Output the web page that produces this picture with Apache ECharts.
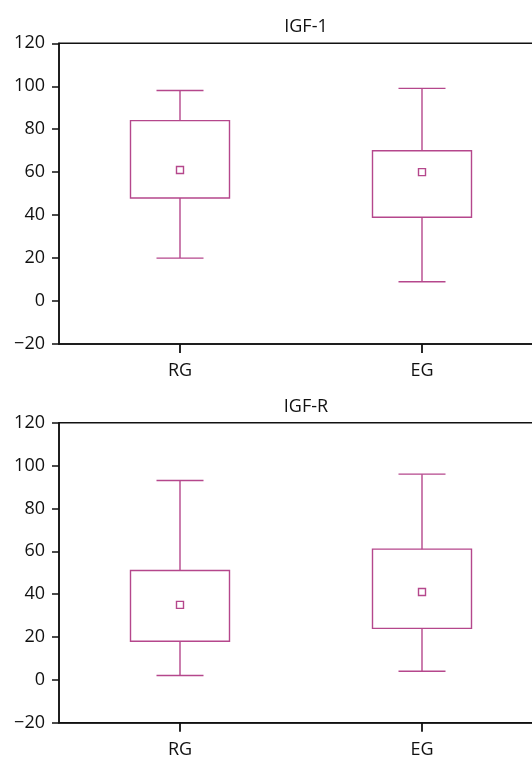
<!DOCTYPE html>
<html>
<head>
<meta charset="utf-8">
<script src="https://cdn.jsdelivr.net/npm/echarts@6/dist/echarts.min.js"></script>
<style>html,body{margin:0;padding:0;background:#fff}#c{width:532px;height:758px}</style>
</head>
<body>
<div id="c"></div>
<script>
var categories = ['RG', 'EG'];
var panelTitles = ['IGF-1', 'IGF-R'];
var yTicks = [-20, 0, 20, 40, 60, 80, 100, 120];

// IGF-1
var igf1Min  = [20, 9];
var igf1Q1   = [48, 39];
var igf1Q3   = [84, 70];
var igf1Max  = [98, 99];
var igf1Mean = [61, 60];

// IGF-R
var igfrMin  = [2, 4];
var igfrQ1   = [18, 24];
var igfrQ3   = [51, 61];
var igfrMax  = [93, 96];
var igfrMean = [35, 41];

var COLOR = '#b5478c';
var FONT = 'Open Sans';
var TXT = '#111';

function rows(mn, q1, q3, mx, mean) {
  return categories.map(function (c, i) { return [i, mn[i], q1[i], q3[i], mx[i], mean[i]]; });
}

function renderItem(params, api) {
  var x = api.value(0);
  var pMin = api.coord([x, api.value(1)]);
  var pQ1 = api.coord([x, api.value(2)]);
  var pQ3 = api.coord([x, api.value(3)]);
  var pMax = api.coord([x, api.value(4)]);
  var pMean = api.coord([x, api.value(5)]);
  var cx = pMin[0];
  var boxW = 99, capW = 47, m = 7;
  var st = { stroke: COLOR, fill: 'none', lineWidth: 1.4 };
  return {
    type: 'group',
    children: [
      { type: 'line', shape: { x1: cx, y1: pMax[1], x2: cx, y2: pQ3[1] }, style: st },
      { type: 'line', shape: { x1: cx, y1: pQ1[1], x2: cx, y2: pMin[1] }, style: st },
      { type: 'line', shape: { x1: cx - capW / 2, y1: pMax[1], x2: cx + capW / 2, y2: pMax[1] }, style: st },
      { type: 'line', shape: { x1: cx - capW / 2, y1: pMin[1], x2: cx + capW / 2, y2: pMin[1] }, style: st },
      { type: 'rect', shape: { x: cx - boxW / 2, y: pQ3[1], width: boxW, height: pQ1[1] - pQ3[1] }, style: st },
      { type: 'rect', shape: { x: cx - m / 2, y: pMean[1] - m / 2, width: m, height: m }, style: st }
    ]
  };
}

var grids = [
  { left: 59, top: 43.3, width: 484, height: 300.7 },
  { left: 59, top: 422.7, width: 484, height: 300 }
];

function xAxis(gi) {
  return {
    type: 'category', gridIndex: gi, data: categories, boundaryGap: true,
    axisLine: { show: true, onZero: false, lineStyle: { color: TXT, width: 1.5 } },
    axisTick: { show: true, interval: 0, alignWithLabel: true, inside: false, length: 9, lineStyle: { color: TXT, width: 1.8 } },
    axisLabel: { color: TXT, fontFamily: FONT, fontSize: 18, margin: 18 },
    splitLine: { show: false }
  };
}
function yAxis(gi) {
  return {
    type: 'value', gridIndex: gi, min: yTicks[0], max: yTicks[yTicks.length - 1], interval: 20,
    axisLine: { show: true, onZero: false, lineStyle: { color: TXT, width: 1.5 } },
    axisTick: { show: true, length: 7, lineStyle: { color: TXT, width: 1.5 } },
    axisLabel: { color: TXT, fontFamily: FONT, fontSize: 18, margin: 14,
      formatter: function (v) { return String(v).replace('-', '\u2212'); } },
    splitLine: { show: false }
  };
}

var chart = echarts.init(document.getElementById('c'), null, { renderer: 'canvas' });
chart.setOption({
  animation: false,
  backgroundColor: '#fff',
  title: [
    { text: panelTitles[0], left: 301, top: 13, textAlign: 'center', textStyle: { color: TXT, fontFamily: FONT, fontSize: 18, fontWeight: 'normal' } },
    { text: panelTitles[1], left: 301, top: 393, textAlign: 'center', textStyle: { color: TXT, fontFamily: FONT, fontSize: 18, fontWeight: 'normal' } }
  ],
  grid: grids.map(function (g) { return Object.assign({ show: true, borderColor: TXT, borderWidth: 1.5, backgroundColor: 'transparent', containLabel: false, outerBoundsMode: 'none' }, g); }),
  xAxis: [xAxis(0), xAxis(1)],
  yAxis: [yAxis(0), yAxis(1)],
  series: [
    { type: 'custom', xAxisIndex: 0, yAxisIndex: 0, renderItem: renderItem, encode: { x: 0, y: [1, 2, 3, 4, 5] },
      data: rows(igf1Min, igf1Q1, igf1Q3, igf1Max, igf1Mean) },
    { type: 'custom', xAxisIndex: 1, yAxisIndex: 1, renderItem: renderItem, encode: { x: 0, y: [1, 2, 3, 4, 5] },
      data: rows(igfrMin, igfrQ1, igfrQ3, igfrMax, igfrMean) }
  ]
});
</script>
</body>
</html>
